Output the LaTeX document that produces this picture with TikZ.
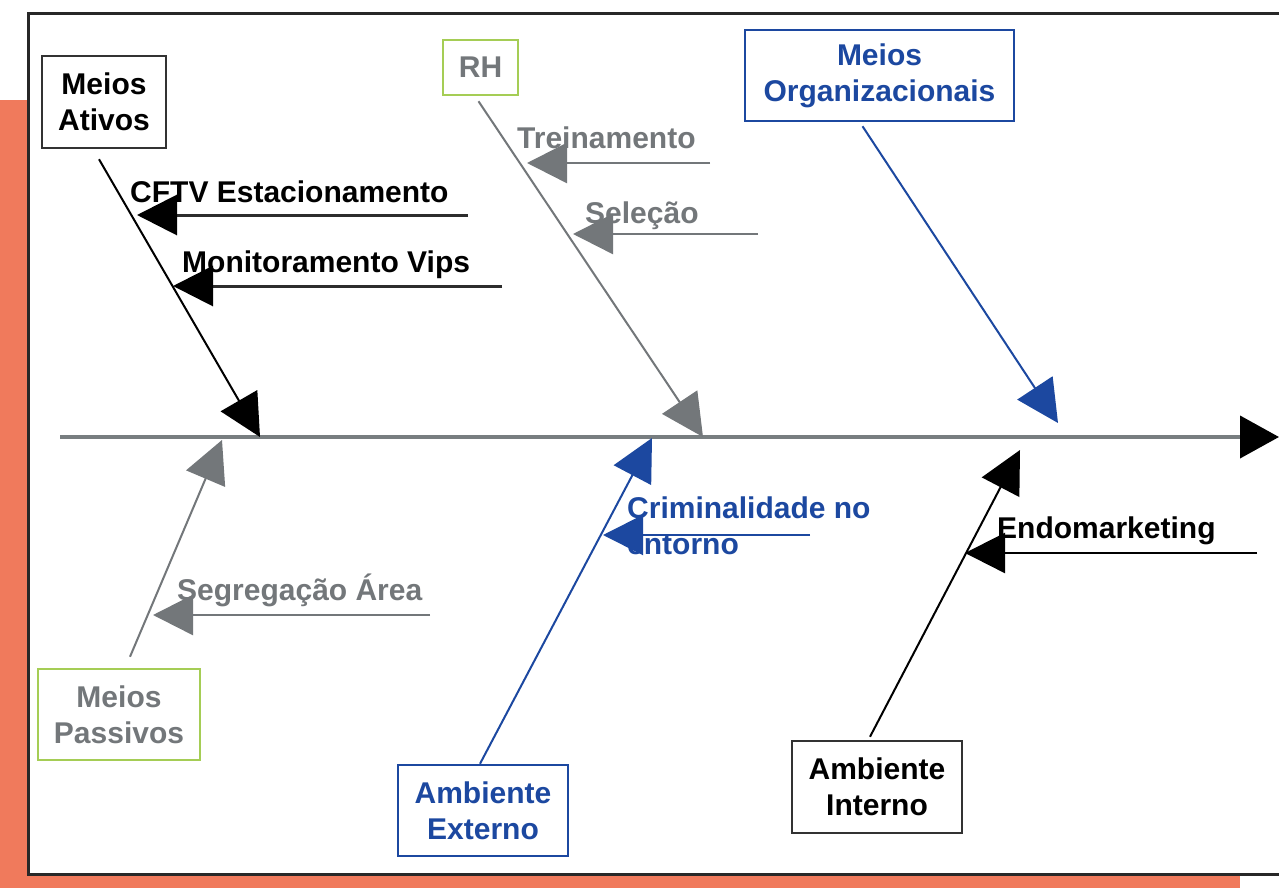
\documentclass[tikz,border=0pt]{standalone}
\usepackage{fontspec}
\setmainfont{Liberation Sans}
\usetikzlibrary{arrows.meta,calc}
\definecolor{orangebg}{RGB}{240,122,92}
\definecolor{framecol}{RGB}{40,40,40}
\definecolor{fbblue}{RGB}{28,72,160}
\definecolor{fbgray}{RGB}{115,119,122}
\definecolor{fbgreen}{RGB}{165,205,85}
\definecolor{spinegray}{RGB}{120,126,128}
\definecolor{boxblack}{RGB}{50,50,50}
\definecolor{twigblack}{RGB}{45,45,45}
\begin{document}
\begin{tikzpicture}[x=1pt,y=-1pt,
  lbl/.style={font=\fontsize{30}{36}\selectfont\bfseries, inner sep=0},
  catbox/.style={draw, line width=2.5pt, align=center, inner sep=0, fill=white,
    font=\fontsize{30}{36}\selectfont\bfseries},
  bone/.style={line width=2pt, -{Triangle[length=42pt,width=42pt]}},
  twig/.style={line width=3pt, -{Triangle[length=40pt,width=40pt]}},
]
\useasboundingbox (0,0) rectangle (1279,888);
\fill[orangebg] (0,100) rectangle (1240,888);
\fill[white] (28,14) rectangle (1295,874);
\draw[framecol, line width=3pt] (1295,14) -- (28,14) -- (28,874) -- (1295,874);

% spine
\coordinate (tail) at (60,437);
\coordinate (head) at (1279,437);
\draw[spinegray, line width=4pt, -{Triangle[length=39pt,width=42pt,color=black]}] (tail) -- (head);

% category boxes
\node[catbox, draw=boxblack, text=black, minimum width=124, minimum height=92] (ativos) at (104,102) {Meios\\Ativos};
\node[catbox, draw=fbgreen, text=fbgray, minimum width=75, minimum height=55] (rh) at (480.5,67.5) {RH};
\node[catbox, draw=fbblue, text=fbblue, minimum width=269, minimum height=91] (org) at (879.5,75.5) {Meios\\Organizacionais};
\node[catbox, draw=fbgreen, text=fbgray, minimum width=162, minimum height=91] (passivos) at (119,714.5) {Meios\\Passivos};
\node[catbox, draw=fbblue, text=fbblue, minimum width=170, minimum height=91] (externo) at (483,810.5) {Ambiente\\Externo};
\node[catbox, draw=boxblack, text=black, minimum width=170, minimum height=92] (interno) at (877,787) {Ambiente\\Interno};

% bone tips on the spine
\coordinate (tA) at (260,437);
\coordinate (tR) at (703,437);
\coordinate (tO) at (1058,423);
\coordinate (tP) at (222,440);
\coordinate (tE) at (652,438);
\coordinate (tI) at (1020,450);

% bones
\draw[bone, black] ($(ativos.south)+(-5,10)$) -- (tA);
\draw[bone, fbgray] ($(rh.south)+(-2,5)$) -- (tR);
\draw[bone, fbblue] ($(org.south)+(-17,4)$) -- (tO);
\draw[bone, fbgray] ($(passivos.north)+(11,-11)$) -- (tP);
\draw[bone, fbblue] ($(externo.north)+(-3,0)$) -- (tE);
\draw[bone, black] ($(interno.north)+(-7,-3)$) -- (tI);

% labels
\node[lbl, anchor=base west, text=black] (lcftv) at (130,202) {CFTV Estacionamento};
\node[lbl, anchor=base west, text=black] (lmon) at (182,272) {Monitoramento Vips};
\node[lbl, anchor=base west, text=fbgray] (ltrein) at (517,148) {Treinamento};
\node[lbl, anchor=base west, text=fbgray] (lsel) at (585,223) {Seleção};
\node[lbl, anchor=base west, text=fbgray] (lseg) at (177,600) {Segregação Área};
\node[lbl, anchor=north west, align=left, text=fbblue] (lcrim) at (627,497) {Criminalidade no\\entorno};
\node[lbl, anchor=base west, text=black] (lendo) at (997,538) {Endomarketing};

% twig coordinates
\coordinate (cftvS) at (468,215);  \coordinate (cftvT) at (137,215);
\coordinate (monS) at (502,286);   \coordinate (monT) at (173,286);
\coordinate (treS) at (710,163);   \coordinate (treT) at (527,163);
\coordinate (selS) at (758,234);   \coordinate (selT) at (573,234);
\coordinate (segS) at (430,615);   \coordinate (segT) at (153,615);
\coordinate (crimS) at (810,535);  \coordinate (crimT) at (603,535);
\coordinate (endoS) at (1257,553); \coordinate (endoT) at (965,553);

% twigs
\draw[twig, twigblack, -{Triangle[length=40pt,width=40pt,color=black]}] (cftvS) -- (cftvT);
\draw[twig, twigblack, -{Triangle[length=40pt,width=40pt,color=black]}] (monS) -- (monT);
\draw[twig, fbgray, line width=2.5pt] (treS) -- (treT);
\draw[twig, fbgray, line width=2.5pt] (selS) -- (selT);
\draw[twig, fbgray, line width=2.5pt] (segS) -- (segT);
\draw[twig, fbblue, line width=2pt] (crimS) -- (crimT);
\draw[twig, black, line width=2.5pt] (endoS) -- (endoT);
\end{tikzpicture}
\end{document}
